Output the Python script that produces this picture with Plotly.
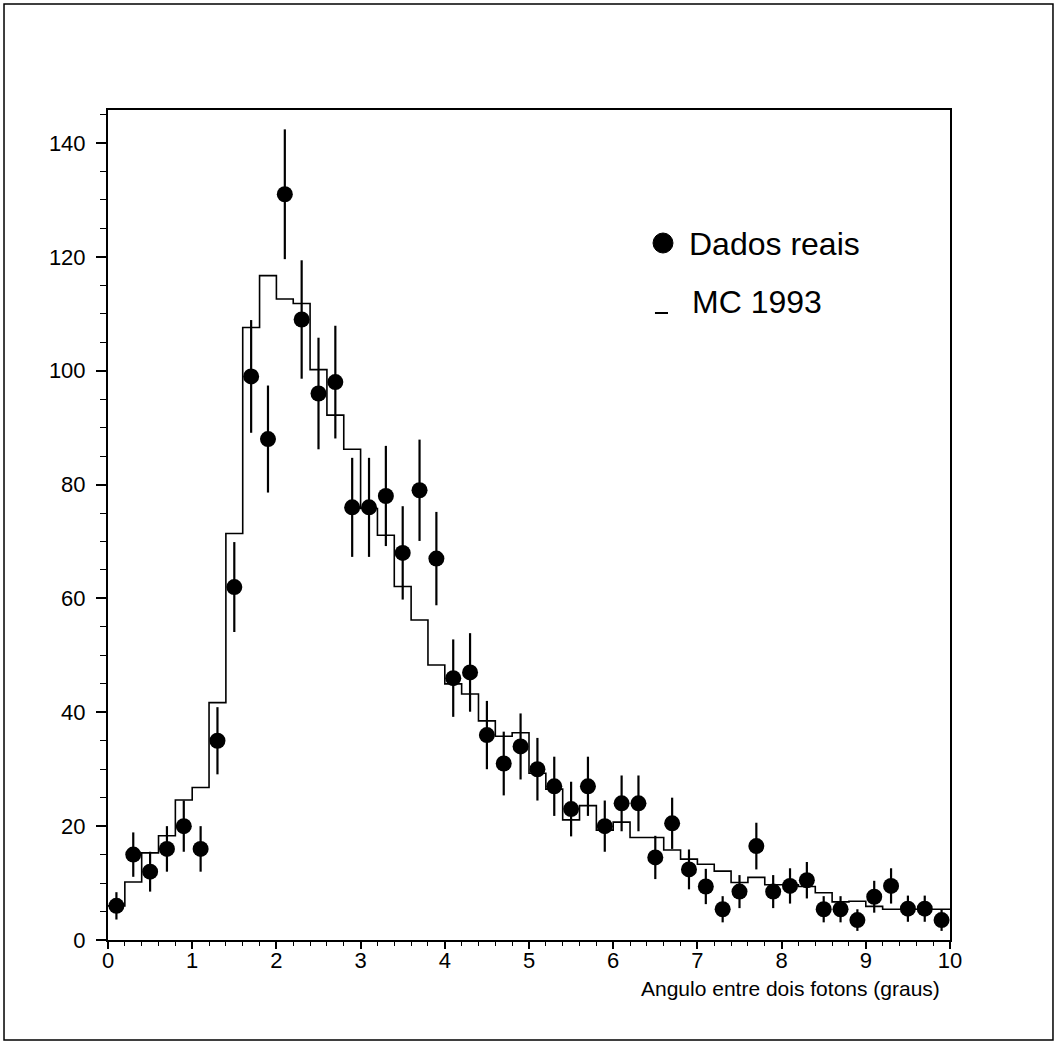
import numpy as np
import plotly.graph_objects as go

# ---- data ----
bin_width = 0.2
n_bins = 50
angle_centers = [round(0.1 + bin_width * i, 1) for i in range(n_bins)]

dados_reais = [6, 15, 12, 16, 20, 16, 35, 62, 99, 88,
               131, 109, 96, 98, 76, 76, 78, 68, 79, 67,
               46, 47, 36, 31, 34, 30, 27, 23, 27, 20,
               24, 24, 14.5, 20.5, 12.4, 9.4, 5.4, 8.5, 16.5, 8.5,
               9.5, 10.5, 5.4, 5.4, 3.5, 7.6, 9.5, 5.5, 5.5, 3.5]

dados_err = [2.4, 3.9, 3.5, 4.0, 4.5, 4.0, 5.9, 7.9, 9.9, 9.4,
             11.4, 10.4, 9.8, 9.9, 8.7, 8.7, 8.8, 8.2, 8.9, 8.2,
             6.8, 6.9, 6.0, 5.6, 5.8, 5.5, 5.2, 4.8, 5.2, 4.5,
             4.9, 4.9, 3.8, 4.5, 3.5, 3.1, 2.3, 2.9, 4.1, 2.9,
             3.1, 3.2, 2.3, 2.3, 1.9, 2.8, 3.1, 2.3, 2.3, 1.9]

mc_1993 = [6.0, 10.2, 15.3, 18.3, 24.6, 26.8, 41.7, 71.4, 107.6, 116.7,
           112.6, 111.8, 100.2, 92.2, 86.2, 75.8, 71.1, 62.1, 56.2, 48.3,
           45.0, 43.2, 38.5, 35.8, 36.4, 29.3, 26.5, 21.1, 23.6, 19.3,
           20.7, 18.0, 18.0, 15.8, 14.2, 13.3, 12.1, 10.1, 11.0, 9.7,
           9.7, 9.4, 8.3, 6.7, 6.8, 5.9, 5.4, 5.4, 5.4, 5.4]

y_ticks = [0, 20, 40, 60, 80, 100, 120, 140]
x_ticks = list(range(0, 11))

x_title = "Angulo entre dois fotons (graus)"
legend_data = "Dados reais"
legend_mc = "MC 1993"

# ---- figure ----
edges = [round(bin_width * i, 1) for i in range(n_bins + 1)]
mc_steps = mc_1993 + [mc_1993[-1]]

FONT = "Liberation Sans"

fig = go.Figure()
fig.add_trace(go.Scatter(
    x=edges, y=mc_steps, mode="lines", line_shape="hv",
    line=dict(color="black", width=1.6), showlegend=False, hoverinfo="skip"))
fig.add_trace(go.Scatter(
    x=angle_centers, y=dados_reais, mode="markers",
    marker=dict(color="black", size=16, line=dict(width=0)),
    error_y=dict(type="data", array=dados_err, visible=True,
                 color="black", thickness=2.2, width=0),
    showlegend=False))

fig.update_layout(
    width=1055, height=1044,
    margin=dict(l=108, r=105, t=110, b=104),
    paper_bgcolor="white", plot_bgcolor="white",
    font=dict(family=FONT, color="black"),
    showlegend=False,
)
fig.update_xaxes(
    range=[0, 10], tickvals=x_ticks, ticks="outside", ticklen=7, tickwidth=1.5,
    tickcolor="black", showline=True, linecolor="black", linewidth=2, mirror=True,
    showgrid=False, zeroline=False, tickfont=dict(size=22, family=FONT),
    minor=dict(dtick=0.2, ticks="outside", ticklen=4, tickwidth=1.2, tickcolor="black", showgrid=False),
    ticklabelstandoff=-7,
)
fig.update_yaxes(
    range=[0, 145.8], tickvals=y_ticks, ticks="outside", ticklen=10, tickwidth=1.5,
    tickcolor="black", showline=True, linecolor="black", linewidth=2, mirror=True,
    showgrid=False, zeroline=False, tickfont=dict(size=22, family=FONT),
    minor=dict(dtick=5, ticks="outside", ticklen=6, tickwidth=1.2, tickcolor="black", showgrid=False),
    ticklabelstandoff=6,
)

annotations = [
    dict(x=0.9905, y=-0.058, xref="paper", yref="paper", text=x_title,
         showarrow=False, xanchor="right", yanchor="middle",
         font=dict(size=21, family=FONT)),
    dict(x=0.6876, y=0.8386, xref="paper", yref="paper", text=legend_data,
         showarrow=False, xanchor="left", yanchor="middle",
         font=dict(size=32, family=FONT)),
    dict(x=0.6912, y=0.7687, xref="paper", yref="paper", text=legend_mc,
         showarrow=False, xanchor="left", yanchor="middle",
         font=dict(size=32, family=FONT)),
]
shapes = [
    dict(type="rect", xref="paper", yref="paper", x0=-0.1235, x1=1.1223,
         y0=-0.1205, y1=1.1277, line=dict(color="black", width=1.5)),
    dict(type="circle", xref="paper", yref="paper", x0=0.6473, x1=0.6710,
         y0=0.8277, y1=0.8518, fillcolor="black", line=dict(color="black", width=1)),
    dict(type="line", xref="paper", yref="paper", x0=0.6496, x1=0.6651,
         y0=0.7554, y1=0.7554, line=dict(color="black", width=2)),
]
fig.update_layout(annotations=annotations, shapes=shapes)

fig.write_html("out.html")
